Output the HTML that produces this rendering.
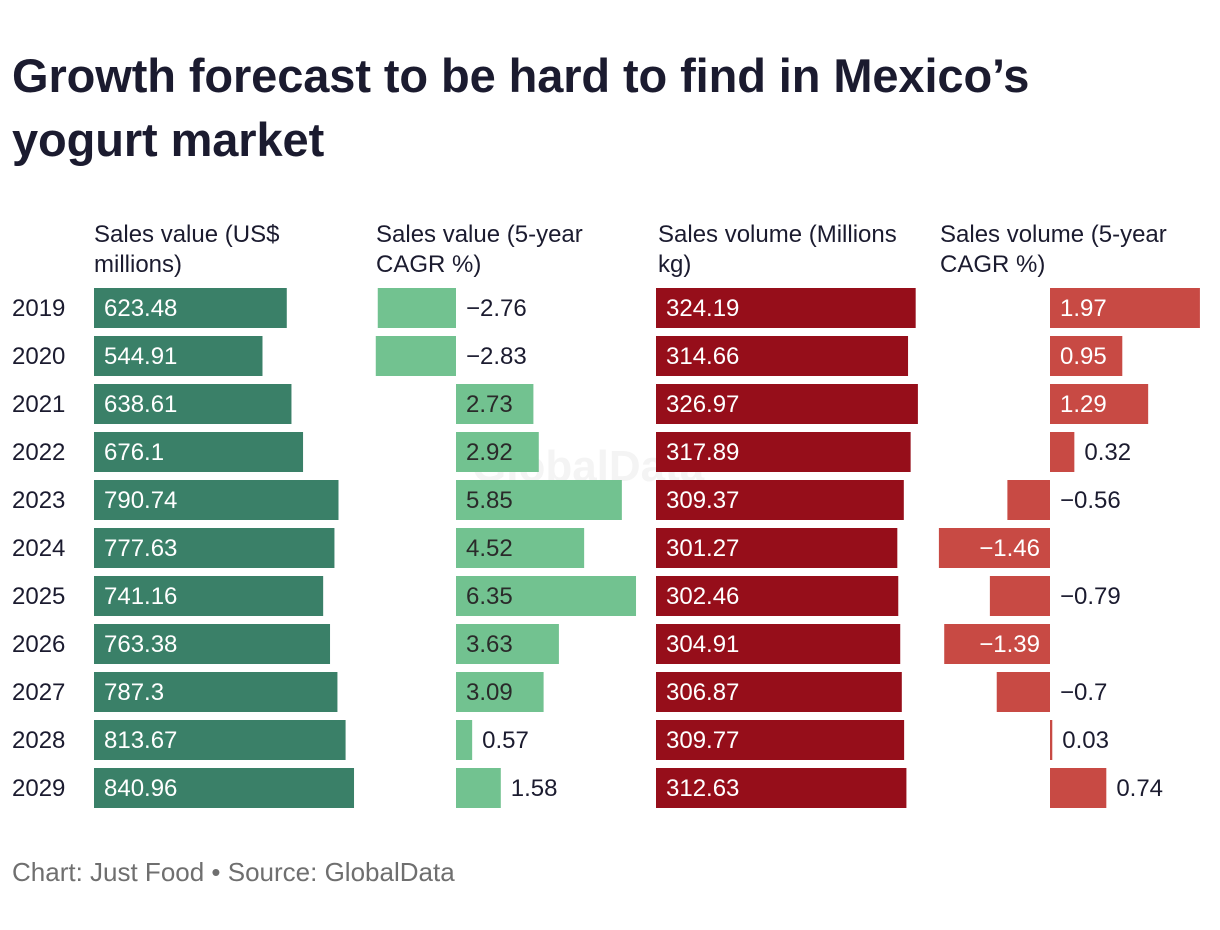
<!DOCTYPE html>
<html><head><meta charset="utf-8"><style>
body{margin:0;width:1220px;height:930px;background:#fff;font-family:"Liberation Sans",sans-serif;overflow:hidden;position:relative}
.t{position:absolute;white-space:nowrap}
</style></head><body>
<div class="t" style="left:12px;top:44px;font-size:47px;font-weight:bold;color:#1b1b2f;line-height:64px;letter-spacing:-0.1px">Growth forecast to be hard to find in Mexico’s<br>yogurt market</div>
<div class="t" style="left:472px;top:442px;font-size:44px;font-weight:bold;color:rgba(200,200,200,0.2)">GlobalData</div>
<div class="t" style="left:12px;top:857px;font-size:26px;color:#6f6f6f">Chart: Just Food • Source: GlobalData</div>
<svg id="c" width="1220" height="930" style="position:absolute;left:0;top:0"></svg>
<script>
const years=["2019","2020","2021","2022","2023","2024","2025","2026","2027","2028","2029"];
const salesValue=[623.48,544.91,638.61,676.1,790.74,777.63,741.16,763.38,787.3,813.67,840.96];
const salesValueCagr=[-2.76,-2.83,2.73,2.92,5.85,4.52,6.35,3.63,3.09,0.57,1.58];
const salesVolume=[324.19,314.66,326.97,317.89,309.37,301.27,302.46,304.91,306.87,309.77,312.63];
const salesVolumeCagr=[1.97,0.95,1.29,0.32,-0.56,-1.46,-0.79,-1.39,-0.7,0.03,0.74];
const headers=[["Sales value (US$","millions)"],["Sales value (5-year","CAGR %)"],["Sales volume (Millions","kg)"],["Sales volume (5-year","CAGR %)"]];
const NS="http://www.w3.org/2000/svg";
const svg=document.getElementById('c');
function el(t,a){const e=document.createElementNS(NS,t);for(const k in a)e.setAttribute(k,a[k]);svg.appendChild(e);return e;}
const yRow=i=>288+i*48;
const FS=24;
const cols=[
 {data:salesValue,zero:94,scale:0.3092,color:"#3a8068",inText:"#fff",thr:0,name:"sales-value"},
 {data:salesValueCagr,zero:456,scale:28.35,color:"#72c290",inText:"#2a2a2a",thr:60,name:"sales-value-cagr"},
 {data:salesVolume,zero:656,scale:0.801,color:"#960e1a",inText:"#fff",thr:0,name:"sales-volume"},
 {data:salesVolumeCagr,zero:1050,scale:76.1,color:"#c84a44",inText:"#fff",thr:60,name:"sales-volume-cagr"}];
const hx=[94,376,658,940];
headers.forEach((h,j)=>{h.forEach((l,k)=>{const t=el('text',{x:hx[j],y:242+k*30,'font-size':FS,fill:'#1b1b2f'});t.textContent=l;

});});
years.forEach((y,i)=>{const t=el('text',{x:12,y:yRow(i)+28,'font-size':FS,fill:'#1b1b2f'});t.textContent=y;

});
cols.forEach(c=>{c.data.forEach((v,i)=>{
 const w=Math.abs(v)*c.scale;const x=v>=0?c.zero:c.zero-w;
 const r=el('rect',{x:x,y:yRow(i),width:Math.max(w,1.5),height:40,fill:c.color});
 
 
 const lbl=String(v).replace('-','−');let tx,anchor='start',fill='#1b1b2f';
 if(v>=0){ if(w>=c.thr){tx=c.zero+10;fill=c.inText;} else {tx=c.zero+w+10;} }
 else { if(w>=100){tx=c.zero-10;anchor='end';fill='#fff';} else {tx=c.zero+10;} }
 const t=el('text',{x:tx,y:yRow(i)+28,'font-size':FS,fill:fill,'text-anchor':anchor});t.textContent=lbl;
 
 
});});
</script>
</body></html>
